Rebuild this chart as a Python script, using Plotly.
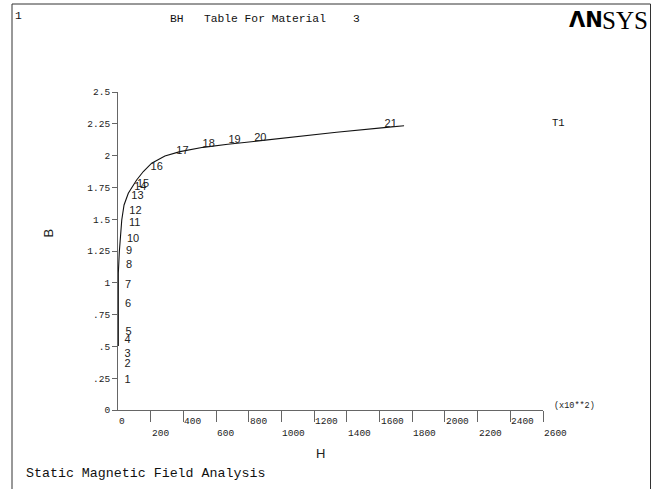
import plotly.graph_objects as go

# ---------------- data ----------------
# BH curve (H in units of 10**2 A/m, B in T)
H_curve = [2, 2, 8, 12, 23, 37, 63, 114, 155, 206, 287, 379, 521, 672, 807, 949, 1337, 1643, 1750]
B_curve = [0.503, 1.077, 1.242, 1.336, 1.494, 1.612, 1.704, 1.808, 1.875, 1.94, 1.997, 2.031,
           2.065, 2.089, 2.109, 2.13, 2.183, 2.222, 2.235]

# point-number labels (where the numbers sit on the chart)
label_text = [str(i) for i in range(1, 22)]
label_H = [58, 58, 58, 58, 64, 61, 62, 67, 67, 92, 102, 107, 119, 137, 153, 237, 394, 555, 713, 871, 1668]
label_B = [0.230, 0.359, 0.438, 0.545, 0.608, 0.833, 0.977, 1.14, 1.245, 1.344, 1.47, 1.564,
           1.677, 1.751, 1.777, 1.909, 2.034, 2.090, 2.119, 2.138, 2.245]

# axis ticks
y_tick_vals = [0, 0.25, 0.5, 0.75, 1.0, 1.25, 1.5, 1.75, 2.0, 2.25, 2.5]
y_tick_text = ['0', '.25', '.5', '.75', '1', '1.25', '1.5', '1.75', '2', '2.25', '2.5']
x_tick_vals = [0, 200, 400, 600, 800, 1000, 1200, 1400, 1600, 1800, 2000, 2200, 2400, 2600]
x_tick_text = [str(v) for v in x_tick_vals]

# ---------------- layout geometry ----------------
W, H = 661, 489
L, R, T, B = 118, 118, 92, 79
PW, PH = W - L - R, H - T - B


def px(xp):
    return (xp - L) / PW


def py(yp):
    return (H - B - yp) / PH


MONO = 'Liberation Mono'
SANS = 'Liberation Sans'
SERIF = 'Liberation Serif'

fig = go.Figure()

fig.add_trace(go.Scatter(
    x=H_curve, y=B_curve, mode='lines',
    line=dict(color='#111', width=1.1),
    hoverinfo='skip', showlegend=False, cliponaxis=False))

fig.add_trace(go.Scatter(
    x=label_H, y=label_B, mode='text', text=label_text,
    textposition='middle center',
    textfont=dict(family=SANS, size=11, color='#222'),
    hoverinfo='skip', showlegend=False, cliponaxis=False))

annotations = []
# x tick labels, two staggered rows, left-aligned on the ticks
for i, (v, t) in enumerate(zip(x_tick_vals, x_tick_text)):
    row_y = 421.7 if i % 2 == 0 else 433.3
    annotations.append(dict(
        x=v, xref='x', y=py(row_y), yref='paper', text=t, showarrow=False,
        xanchor='left', yanchor='middle', xshift=-1,
        font=dict(family=MONO, size=9.5, color='#222')))

annotations += [
    dict(x=px(552), y=py(405.7), text='(x10**2)', xanchor='left', yanchor='middle',
         font=dict(family=MONO, size=8.5, color='#222')),
    dict(x=px(320), y=py(453), text='H', xanchor='center', yanchor='middle',
         font=dict(family=SANS, size=13, color='#222')),
    dict(x=px(47.5), y=py(233), text='B', textangle=-90, xanchor='center', yanchor='middle',
         font=dict(family=SANS, size=13, color='#222')),
    dict(x=px(168), y=py(19), text='BH   Table For Material    3', xanchor='left',
         yanchor='middle', font=dict(family=MONO, size=11.3, color='#111')),
    dict(x=px(13), y=py(16), text='1', xanchor='left', yanchor='middle',
         font=dict(family=MONO, size=11.3, color='#111')),
    dict(x=px(550), y=py(123), text='T1', xanchor='left', yanchor='middle',
         font=dict(family=MONO, size=10.5, color='#111')),
    dict(x=px(24), y=py(473), text='Static Magnetic Field Analysis', xanchor='left',
         yanchor='middle', font=dict(family=MONO, size=13.3, color='#111')),
    dict(x=px(567), y=py(20), text='<b>ΛN</b>', xanchor='left', yanchor='middle',
         font=dict(family='DejaVu Sans', size=21, color='#000')),
    dict(x=px(600), y=py(20), text='SYS', xanchor='left', yanchor='middle',
         font=dict(family=SERIF, size=25, color='#000')),
]
for a in annotations:
    a.setdefault('xref', 'paper')
    a.setdefault('yref', 'paper')
    a.setdefault('showarrow', False)

shapes = [
    dict(type='line', xref='paper', yref='paper', x0=px(12), x1=px(12), y0=py(4), y1=py(500),
         line=dict(color='#333', width=1)),
    dict(type='line', xref='paper', yref='paper', x0=px(650.5), x1=px(650.5), y0=py(4), y1=py(500),
         line=dict(color='#333', width=1)),
    dict(type='line', xref='paper', yref='paper', x0=px(12), x1=px(650.5), y0=py(4), y1=py(4),
         line=dict(color='#333', width=1)),
]

fig.update_layout(
    width=W, height=H,
    margin=dict(l=L, r=R, t=T, b=B, pad=0),
    paper_bgcolor='white', plot_bgcolor='white',
    showlegend=False,
    annotations=annotations,
    shapes=shapes,
    xaxis=dict(range=[0, 2600], showgrid=False, zeroline=False,
               showline=True, linecolor='#666', linewidth=1,
               tickmode='array', tickvals=x_tick_vals[1:], ticks='outside',
               ticklen=11, tickcolor='#666', tickwidth=1, showticklabels=False,
               fixedrange=True, layer='below traces'),
    yaxis=dict(range=[0, 2.5], showgrid=False, zeroline=False,
               showline=True, linecolor='#666', linewidth=1,
               tickmode='array', tickvals=y_tick_vals, ticktext=y_tick_text,
               ticks='outside', ticklen=5, tickcolor='#666', tickwidth=1,
               tickfont=dict(family=MONO, size=9.5, color='#222'),
               fixedrange=True, layer='below traces'),
)

fig.write_html('out.html', config={'displayModeBar': False},
               post_script="document.body.style.margin='0';document.body.style.overflow='hidden';")
